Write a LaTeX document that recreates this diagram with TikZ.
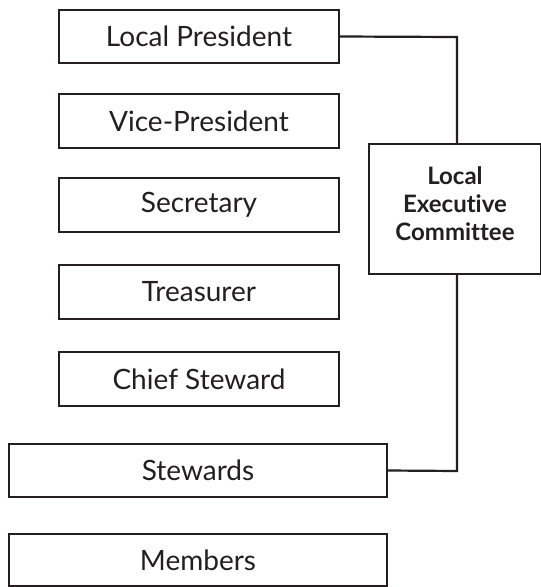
\documentclass[tikz,border=0pt]{standalone}
\usepackage{fontspec}
\setmainfont{Lato}[Ligatures=NoCommon]
\definecolor{ink}{HTML}{231F20}
\begin{document}
\begin{tikzpicture}[x=1pt,y=-1pt,
  box/.style={draw=ink,line width=2.2pt,fill=white,inner sep=0pt,text=ink,font=\fontsize{28}{32}\selectfont},
  cbox/.style={draw=ink,line width=2.2pt,inner sep=0pt,text=ink,align=center,font=\bfseries\fontsize{24}{28}\selectfont},
  link/.style={draw=ink,line width=2.2pt}]
\useasboundingbox (0,0) rectangle (541,587);
\node[box,minimum width=280pt,minimum height=53pt] (lp) at (199,36.5) {Local President};
\node[box,minimum width=280pt,minimum height=54pt] (vp) at (199,121) {Vice-President};
\node[box,minimum width=280pt,minimum height=54pt] (sec) at (199,205) {Secretary};
\node[box,minimum width=280pt,minimum height=54pt] (tre) at (199,292) {Treasurer};
\node[box,minimum width=280pt,minimum height=54pt] (cs) at (199,379) {Chief Steward};
\node[box,minimum width=378pt,minimum height=53pt] (st) at (198,470.5) {Stewards};
\node[box,minimum width=378pt,minimum height=52pt] (mem) at (198,560) {Members};
\node[draw=ink,line width=2.2pt,minimum width=172pt,minimum height=130pt] (lec) at (455,209) {};
\node[cbox,draw=none,anchor=center] (lect) at (455,204) {Local\\Executive\\Committee};
\coordinate (tj) at (457,37);
\coordinate (bj) at (457,471);
\draw[link] (lp.east) -- (tj) -- (tj |- lec.north);
\draw[link] (tj |- lec.south) -- (bj) -- (st.east);
\end{tikzpicture}
\end{document}
